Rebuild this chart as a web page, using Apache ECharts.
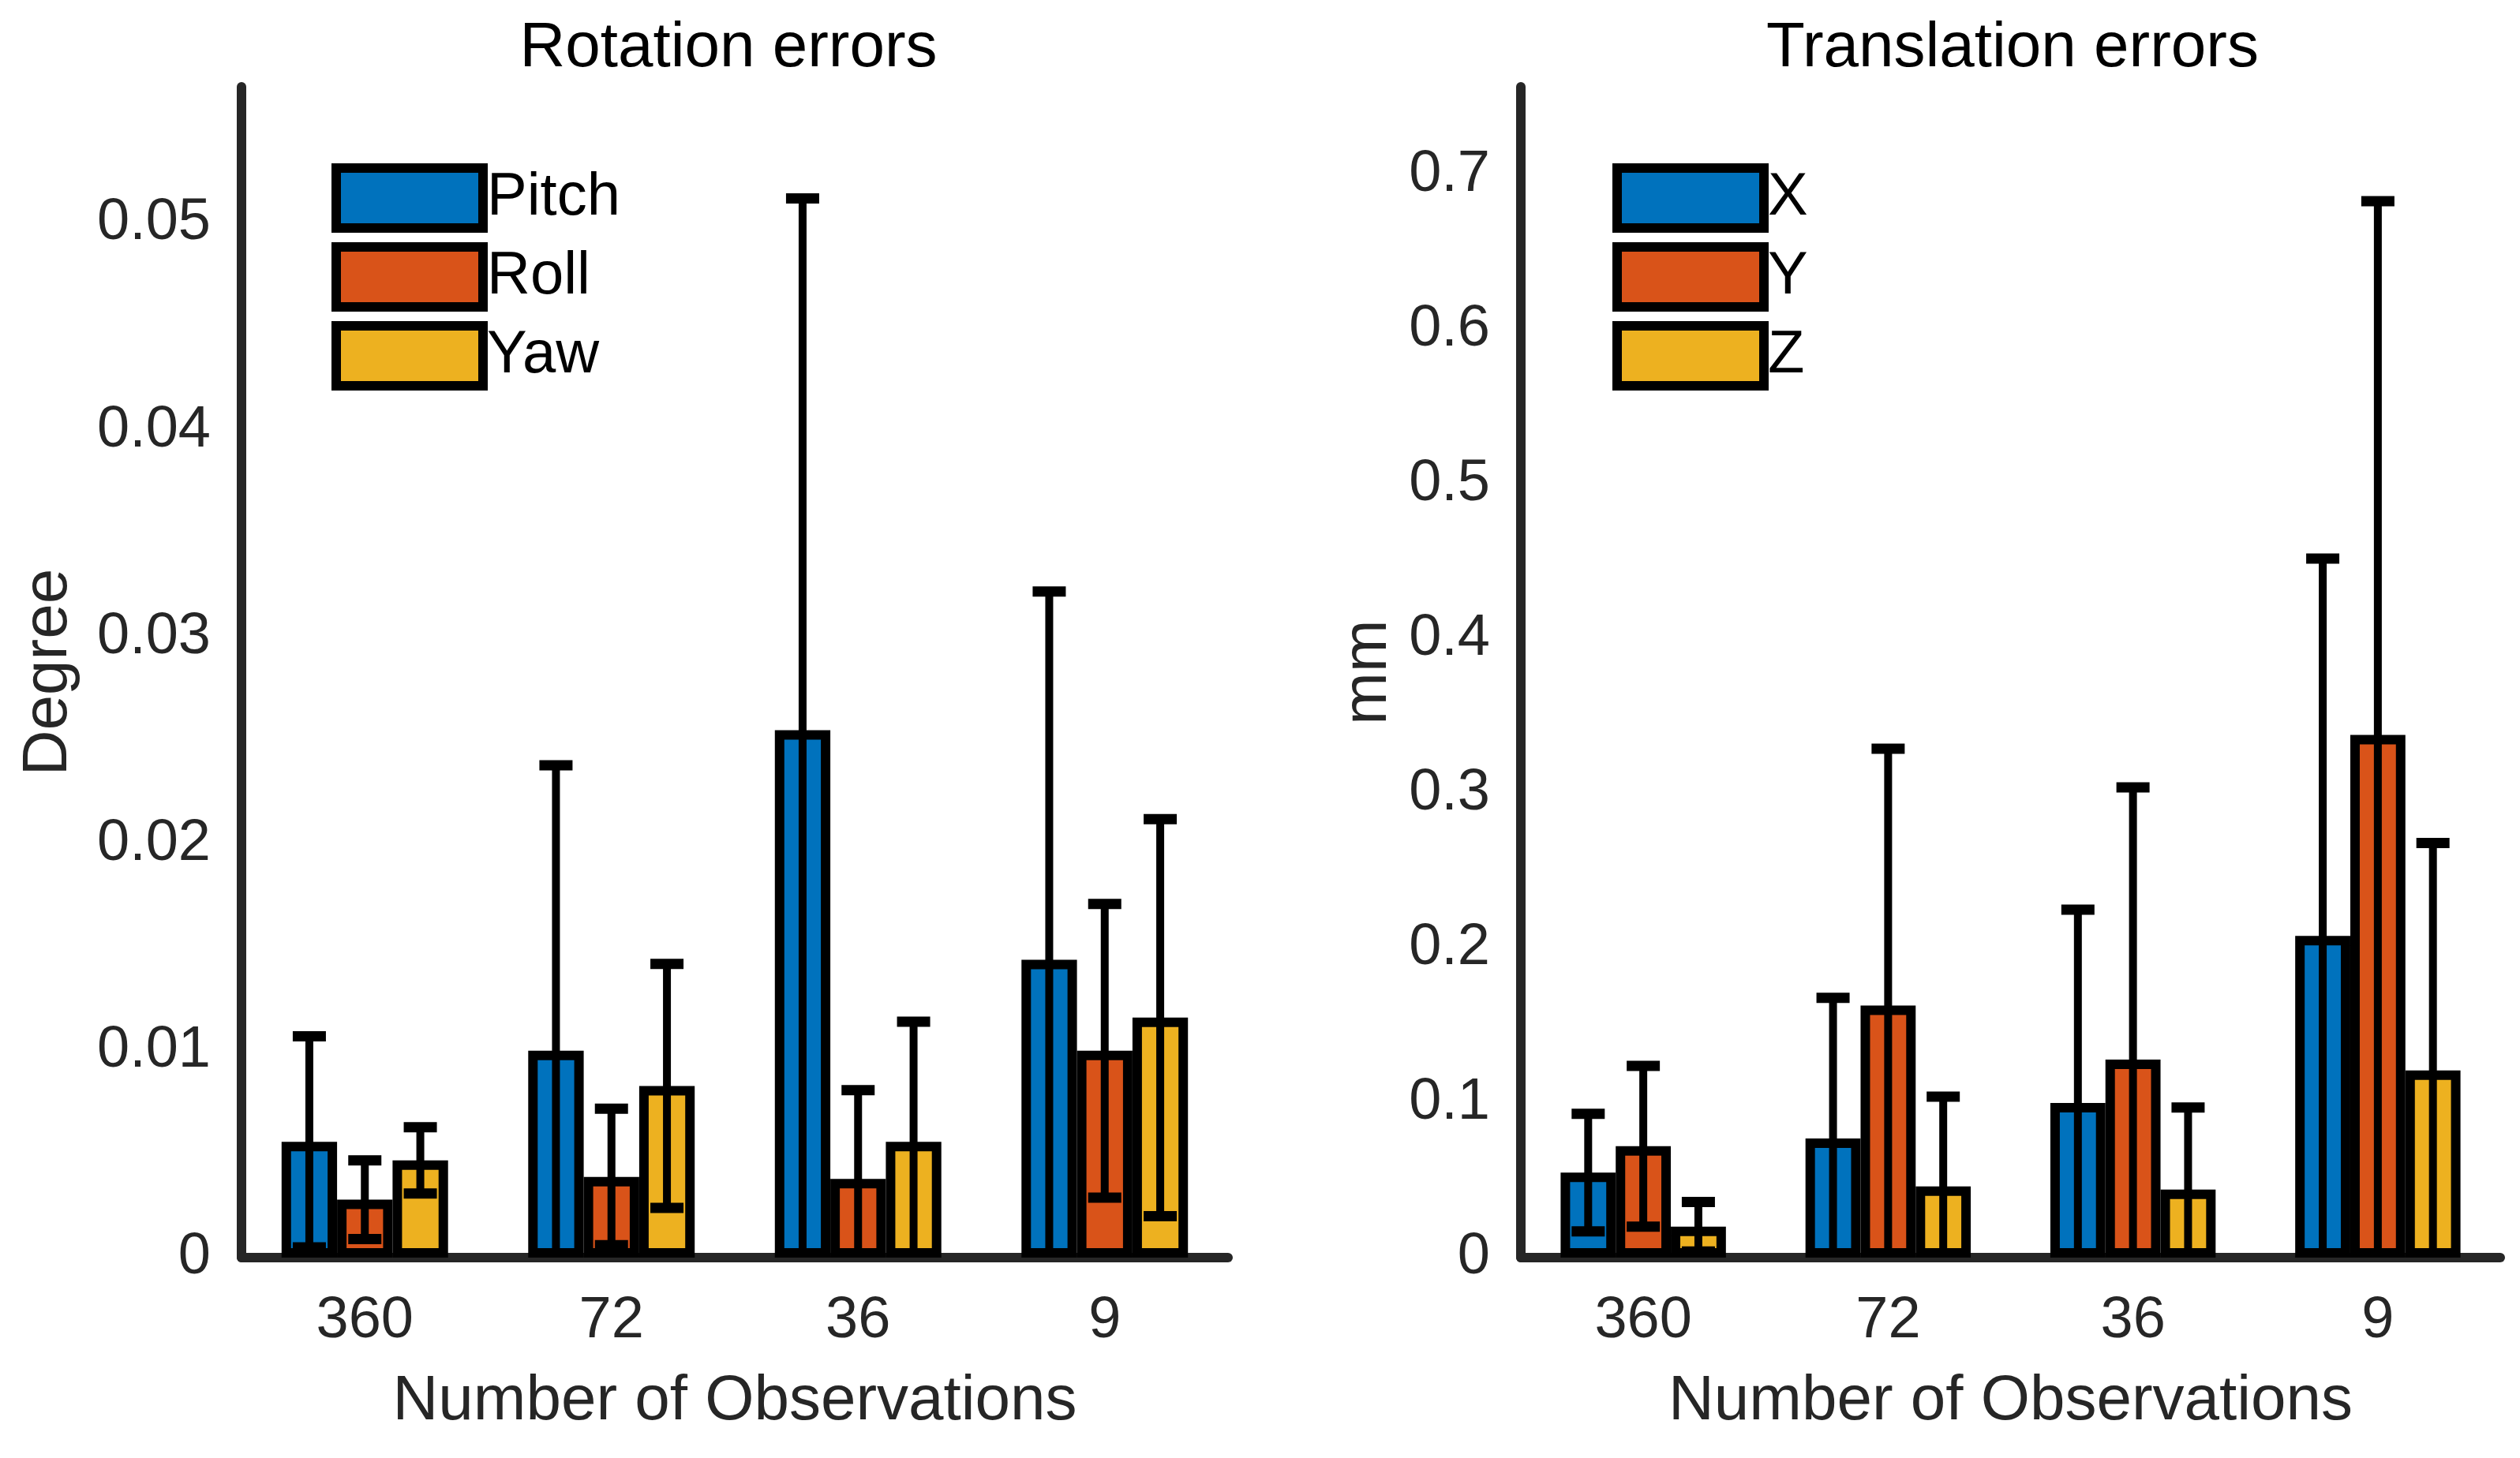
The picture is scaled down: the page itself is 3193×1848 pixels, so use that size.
<!DOCTYPE html>
<html>
<head>
<meta charset="utf-8">
<script src="https://cdn.jsdelivr.net/npm/echarts@6/dist/echarts.min.js"></script>
<style>
html,body{margin:0;padding:0;background:#fff;}
#chart{width:3193px;height:1848px;}
</style>
</head>
<body>
<div id="chart"></div>
<script>
// ---- data ----
const categories = ['360', '72', '36', '9'];

const rotNames = ['Pitch', 'Roll', 'Yaw'];
const rotPitch    = [0.0056, 0.0100, 0.0255, 0.0144];
const rotPitchErr = [0.0051, 0.0138, 0.0257, 0.0178];
const rotRoll     = [0.0028, 0.0039, 0.0038, 0.0100];
const rotRollErr  = [0.0019, 0.0033, 0.0043, 0.0071];
const rotYaw      = [0.0047, 0.0083, 0.0056, 0.0116];
const rotYawErr   = [0.0016, 0.0059, 0.0058, 0.0096];

const trNames = ['X', 'Y', 'Z'];
const trX    = [0.055, 0.077, 0.100, 0.208];
const trXErr = [0.038, 0.091, 0.125, 0.244];
const trY    = [0.072, 0.163, 0.128, 0.338];
const trYErr = [0.052, 0.166, 0.176, 0.345];
const trZ    = [0.020, 0.046, 0.044, 0.121];
const trZErr = [0.016, 0.058, 0.053, 0.147];

const rotTicks = { min: 0, max: 0.0566, interval: 0.01 };
const trTicks  = { min: 0, max: 0.757, interval: 0.1 };

// ---- style ----
const colors = ['#0072BD', '#D95319', '#EDB120'];
const FONT = '"Liberation Sans", Arial, Helvetica, sans-serif';
const AX = '#262626';
const BAR_FRAC = 0.225;
const CAP = 21;

function errRender(offsetIdx) {
  return function (params, api) {
    const cat = api.value(0), mean = api.value(1), err = api.value(2);
    const band = api.size([1, 0])[0];
    const dx = (offsetIdx - 1) * band * BAR_FRAC;
    const top = api.coord([cat, mean + err]);
    const lowVal = mean - err;
    const bot = api.coord([cat, Math.max(lowVal, 0)]);
    const x = top[0] + dx;
    const children = [
      { type: 'line', shape: { x1: x, y1: top[1], x2: x, y2: bot[1] }, style: { stroke: '#000', lineWidth: 10 } },
      { type: 'line', shape: { x1: x - CAP, y1: top[1], x2: x + CAP, y2: top[1] }, style: { stroke: '#000', lineWidth: 13 } }
    ];
    if (lowVal > 0) {
      children.push({ type: 'line', shape: { x1: x - CAP, y1: bot[1], x2: x + CAP, y2: bot[1] }, style: { stroke: '#000', lineWidth: 13 } });
    }
    return { type: 'group', children: children };
  };
}

function makeSeries(names, means, errs, axisIdx) {
  const out = [];
  names.forEach(function (n, i) {
    out.push({
      name: n, type: 'bar', xAxisIndex: axisIdx, yAxisIndex: axisIdx,
      data: means[i], barWidth: (BAR_FRAC * 100) + '%', barGap: '0%',
      itemStyle: { color: colors[i], borderColor: '#000', borderWidth: 12 },
      z: 2, animation: false
    });
  });
  names.forEach(function (n, i) {
    out.push({
      type: 'custom', xAxisIndex: axisIdx, yAxisIndex: axisIdx,
      renderItem: errRender(i),
      data: means[i].map(function (m, k) { return [k, m, errs[i][k]]; }),
      encode: { x: 0, y: 1 }, z: 5, silent: true, animation: false
    });
  });
  return out;
}

function xAx(idx) {
  return {
    type: 'category', gridIndex: idx, data: categories, boundaryGap: true,
    axisLine: { lineStyle: { color: AX, width: 12 } },
    axisTick: { show: false },
    axisLabel: { fontSize: 74, color: AX, fontFamily: FONT, margin: 44 },
    name: 'Number of Observations', nameLocation: 'middle', nameGap: 143,
    nameTextStyle: { fontSize: 80, color: AX, fontFamily: FONT }
  };
}
function yAx(idx, ticks, name, gap) {
  return {
    type: 'value', gridIndex: idx, min: ticks.min, max: ticks.max, interval: ticks.interval,
    axisLine: { show: true, lineStyle: { color: AX, width: 12 } },
    axisTick: { show: false }, splitLine: { show: false },
    axisLabel: { fontSize: 74, color: AX, fontFamily: FONT, margin: 39, showMaxLabel: false },
    name: name, nameLocation: 'middle', nameGap: gap, nameRotate: 90,
    nameTextStyle: { fontSize: 80, color: AX, fontFamily: FONT }
  };
}
function legend(names, left) {
  return {
    data: names, orient: 'vertical', left: left, top: 207, padding: 0,
    icon: 'rect', itemWidth: 186, itemHeight: 76, itemGap: 12,
    itemStyle: { borderColor: '#000', borderWidth: 12 },
    textStyle: { fontSize: 76, color: '#000', fontFamily: FONT, lineHeight: 76, height: 76, padding: 0 },
    selectedMode: false
  };
}

const chart = echarts.init(document.getElementById('chart'), null, { renderer: 'canvas' });
chart.setOption({
  backgroundColor: '#fff',
  animation: false,
  grid: [
    { left: 306, top: 110, width: 1250, height: 1484 },
    { left: 1927, top: 110, width: 1241, height: 1484 }
  ],
  xAxis: [xAx(0), xAx(1)],
  yAxis: [yAx(0, rotTicks, 'Degree', 204), yAx(1, trTicks, 'mm', 153)],
  legend: [legend(rotNames, 420), legend(trNames, 2043)],
  graphic: [
    { type: 'text', x: 923, y: 62, style: { text: 'Rotation errors', font: '80px ' + FONT, fill: '#000', align: 'center', verticalAlign: 'middle' } },
    { type: 'text', x: 2550, y: 62, style: { text: 'Translation errors', font: '80px ' + FONT, fill: '#000', align: 'center', verticalAlign: 'middle' } }
  ],
  series: makeSeries(rotNames, [rotPitch, rotRoll, rotYaw], [rotPitchErr, rotRollErr, rotYawErr], 0)
    .concat(makeSeries(trNames, [trX, trY, trZ], [trXErr, trYErr, trZErr], 1))
});
</script>
</body>
</html>
